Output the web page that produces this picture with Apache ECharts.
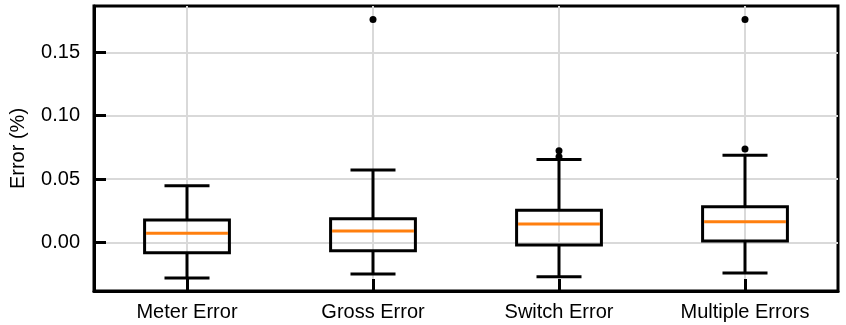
<!DOCTYPE html>
<html>
<head>
<meta charset="utf-8">
<script src="https://cdn.jsdelivr.net/npm/echarts@6/dist/echarts.min.js"></script>
<style>
  html, body { margin: 0; padding: 0; background: #fff; }
  #chart { width: 846px; height: 325px; }
</style>
</head>
<body>
<div id="chart"></div>
<script>
const categories = ['Meter Error', 'Gross Error', 'Switch Error', 'Multiple Errors'];
const lowerWhisker = [-0.0282, -0.0250, -0.0272, -0.0242];
const q1Values = [-0.0082, -0.0066, -0.0021, 0.0010];
const medianValues = [0.0071, 0.0089, 0.0144, 0.0163];
const q3Values = [0.0176, 0.0186, 0.0253, 0.0281];
const upperWhisker = [0.0447, 0.0571, 0.0655, 0.0687];
const outlierCategory = [1, 2, 2, 3, 3];
const outlierValues = [0.1760, 0.0723, 0.0676, 0.0737, 0.1760];
const yTicks = [0, 0.05, 0.10, 0.15];
const yMin = -0.0384;
const yMax = 0.1866;

const boxData = categories.map((c, i) => [i, lowerWhisker[i], q1Values[i], medianValues[i], q3Values[i], upperWhisker[i]]);
const outlierData = outlierCategory.map((c, k) => [c, outlierValues[k]]);

const chart = echarts.init(document.getElementById('chart'), null, { renderer: 'canvas' });
const font = 'Liberation Sans, Arial, sans-serif';

chart.setOption({
  animation: false,
  backgroundColor: '#fff',
  grid: {
    left: 93, right: 8, top: 6, bottom: 34,
    show: true, borderColor: '#000', borderWidth: 3, backgroundColor: 'transparent'
  },
  xAxis: {
    type: 'value',
    min: -0.5, max: 3.5,
    axisLine: { show: true, onZero: false, lineStyle: { color: '#000', width: 3 } },
    axisTick: { show: true, inside: true, length: 12, customValues: [0, 1, 2, 3], lineStyle: { color: '#000', width: 3 } },
    axisLabel: {
      customValues: [0, 1, 2, 3],
      formatter: v => categories[Math.round(v)] || '',
      color: '#000', fontSize: 20, fontFamily: font, margin: 11
    },
    splitLine: { show: true, lineStyle: { color: '#d9d9d9', width: 2 } }
  },
  yAxis: {
    type: 'value',
    min: yMin, max: yMax,
    name: 'Error (%)',
    nameLocation: 'middle',
    nameGap: 66,
    nameTextStyle: { color: '#000', fontSize: 20, fontFamily: font },
    axisLine: { show: true, onZero: false, lineStyle: { color: '#000', width: 3 } },
    axisTick: { show: true, inside: true, length: 12, customValues: yTicks, lineStyle: { color: '#000', width: 3 } },
    axisLabel: {
      customValues: yTicks,
      formatter: v => v.toFixed(2),
      color: '#000', fontSize: 20, fontFamily: font, margin: 14
    },
    splitLine: { show: true, lineStyle: { color: '#d9d9d9', width: 2 } }
  },
  series: [
    {
      type: 'custom',
      data: boxData,
      encode: { x: 0, y: [1, 2, 3, 4, 5] },
      z: 5,
      renderItem: function (params, api) {
        const i = api.value(0);
        const lo = api.coord([i, api.value(1)]);
        const q1 = api.coord([i, api.value(2)]);
        const med = api.coord([i, api.value(3)]);
        const q3 = api.coord([i, api.value(4)]);
        const hi = api.coord([i, api.value(5)]);
        const unit = api.size([1, 0])[0];
        const bw = unit * 0.456;
        const cw = unit * 0.242;
        const x = lo[0];
        const black = { stroke: '#000', lineWidth: 3, fill: null };
        return {
          type: 'group',
          children: [
            { type: 'line', shape: { x1: x, y1: q3[1], x2: x, y2: hi[1] }, style: black },
            { type: 'line', shape: { x1: x, y1: q1[1], x2: x, y2: lo[1] }, style: black },
            { type: 'line', shape: { x1: x - cw / 2, y1: hi[1], x2: x + cw / 2, y2: hi[1] }, style: black },
            { type: 'line', shape: { x1: x - cw / 2, y1: lo[1], x2: x + cw / 2, y2: lo[1] }, style: black },
            { type: 'rect', shape: { x: x - bw / 2, y: q3[1], width: bw, height: q1[1] - q3[1] }, style: { stroke: '#000', lineWidth: 3, fill: null } },
            { type: 'line', shape: { x1: x - bw / 2 + 1.5, y1: med[1], x2: x + bw / 2 - 1.5, y2: med[1] }, style: { stroke: '#ff7f0e', lineWidth: 3 } }
          ]
        };
      }
    },
    {
      type: 'scatter',
      data: outlierData,
      symbol: 'circle',
      symbolSize: 7,
      itemStyle: { color: '#000', opacity: 1 },
      z: 6
    }
  ]
});
</script>
</body>
</html>
